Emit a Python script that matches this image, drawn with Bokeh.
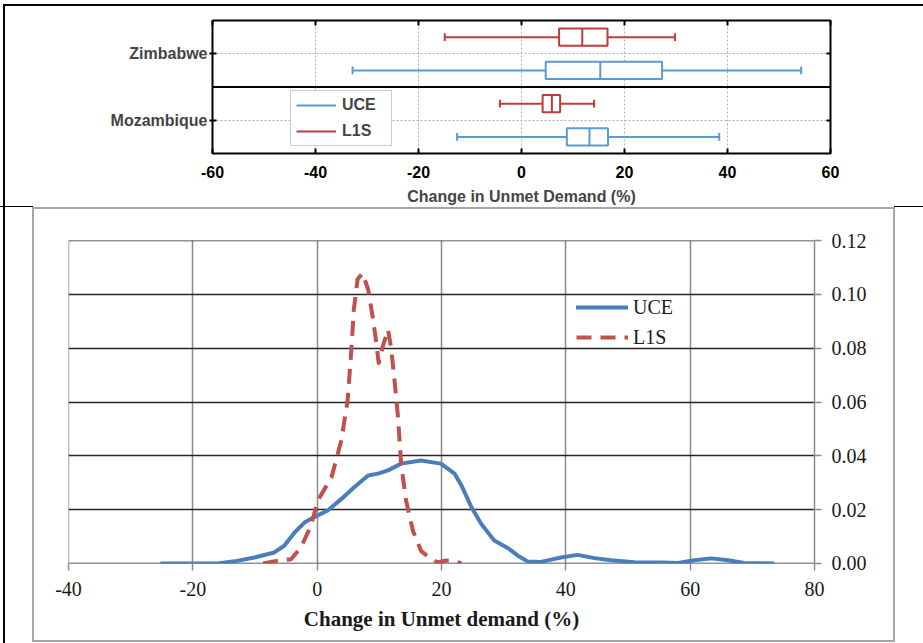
from bokeh.plotting import figure
from bokeh.models import (ColumnDataSource, FixedTicker, Span, Legend, LegendItem,
                          LinearAxis, NumeralTickFormatter, Range1d)
from bokeh.embed import file_html
from bokeh.resources import INLINE

# ---------------- data: box plots (top panel) ----------------
countries = ["Mozambique", "Zimbabwe"]
country_pos = [1, 2]
uce_low = [-12.5, -32.8]
uce_q1 = [8.8, 4.7]
uce_med = [13.2, 15.3]
uce_q3 = [16.8, 27.3]
uce_high = [38.4, 54.3]
l1s_low = [-4.2, -14.9]
l1s_q1 = [4.1, 7.3]
l1s_med = [5.9, 11.8]
l1s_q3 = [7.5, 16.7]
l1s_high = [14.1, 29.8]
top_xticks = [-60, -40, -20, 0, 20, 40, 60]
top_xlabels = ["-60", "-40", "-20", "0", "20", "40", "60"]

# ---------------- data: density curves (bottom panel) ----------------
uce_x = [-25, -16, -13.3, -10.1, -6.9, -5.3, -3.6, -2.0, 0, 1.7, 3.9, 6.0, 8.2, 9.8, 11.4,
         13.5, 16.7, 19.9, 22.1, 23.2, 24.8, 26.4, 28.5, 30.7, 32.3, 33.9, 36.0, 39.2, 41.9,
         44.6, 47.3, 51.0, 55.3, 58.0, 60.7, 63.4, 66.1, 68.7, 73.3]
uce_y = [0, 0, 0.0008, 0.0022, 0.0041, 0.0066, 0.0116, 0.0153, 0.0178, 0.0197, 0.024, 0.0284,
         0.0327, 0.0334, 0.0346, 0.0371, 0.0383, 0.0371, 0.0334, 0.029, 0.021, 0.0147, 0.0085,
         0.0057, 0.0029, 0.0007, 0.0006, 0.0022, 0.0032, 0.002, 0.0012, 0.0005, 0.0004, 0.0002,
         0.0012, 0.0019, 0.0012, 0.0002, 0.0]
l1s_x = [-8.7, -6.3, -4.2, -2.6, -1.0, 0.1, 2.3, 3.9, 4.9, 5.5, 5.9, 6.5, 7.3, 8.2, 9.0, 9.4,
         9.9, 10.6, 11.4, 11.9, 12.4, 13.0, 13.5, 14.3, 15.4, 16.7, 18.3, 19.4, 20.5, 21.5,
         22.5, 23.2]
l1s_y = [0, 0.001, 0.0016, 0.006, 0.014, 0.0234, 0.032, 0.0458, 0.0607, 0.0794, 0.0944, 0.1056,
         0.1078, 0.1018, 0.0906, 0.0840, 0.0745, 0.0810, 0.0869, 0.0800, 0.0690, 0.0545, 0.0371,
         0.0234, 0.0122, 0.0047, 0.0016, 0.0004, 0.0010, 0.0012, 0.0006, 0.0]
bot_xticks = [-40, -20, 0, 20, 40, 60, 80]
bot_xlabels = ["-40", "-20", "0", "20", "40", "60", "80"]
bot_yticks = [0.0, 0.02, 0.04, 0.06, 0.08, 0.10, 0.12]

SANS = "Liberation Sans"
SERIF = "Liberation Serif"
TOP_BLUE = "#5b9bd5"
TOP_RED = "#c23b3b"
BOT_BLUE = "#4a7ebb"
BOT_RED = "#c0504d"

# ================= TOP PANEL =================
top_bg = ", ".join([
    "linear-gradient(#000,#000) 3px 4px / 920px 2px no-repeat",
    "linear-gradient(#000,#000) 3px 4px / 2px 203px no-repeat",
    "linear-gradient(#000,#000) 0px 206px / 33px 1px no-repeat",
    "linear-gradient(#000,#000) 894px 206px / 29px 1px no-repeat",
    "#ffffff",
])
top = figure(width=923, height=207, x_range=Range1d(-60, 60), y_range=Range1d(0.5, 2.5),
             output_backend="svg", toolbar_location=None,
             min_border_left=212, min_border_right=93, min_border_top=20, min_border_bottom=54,
             border_fill_color=None, background_fill_color="white",
             outline_line_color="black", outline_line_width=2,
             styles={"background": top_bg})

xa = top.xaxis[0]
xa.ticker = FixedTicker(ticks=top_xticks)
xa.major_label_overrides = dict(zip(top_xticks, top_xlabels))
xa.axis_line_color = None
xa.major_tick_in = 5
xa.major_tick_out = 0
xa.major_tick_line_width = 2
xa.minor_tick_line_color = None
xa.major_label_text_font = SANS
xa.major_label_text_font_style = "bold"
xa.major_label_text_font_size = "16px"
xa.major_label_text_color = "black"
xa.major_label_standoff = 12
xa.axis_label = "Change in Unmet Demand (%)"
xa.axis_label_text_font = SANS
xa.axis_label_text_font_style = "bold"
xa.axis_label_text_font_size = "16px"
xa.axis_label_standoff = 7

ya = top.yaxis[0]
ya.ticker = FixedTicker(ticks=country_pos)
ya.major_label_overrides = {p: c for p, c in zip(country_pos, countries)}
ya.axis_line_color = None
ya.major_tick_in = 4
ya.major_tick_out = 3
ya.major_tick_line_width = 2
ya.minor_tick_line_color = None
ya.major_label_text_font = SANS
ya.major_label_text_font_style = "bold"
ya.major_label_text_font_size = "16px"
ya.major_label_standoff = 2

ax_top = LinearAxis(ticker=FixedTicker(ticks=top_xticks), axis_line_color=None,
                    major_tick_in=5, major_tick_out=0, major_tick_line_width=2,
                    minor_tick_line_color=None, major_label_text_color=None,
                    major_label_text_font_size="8px", major_label_standoff=0)
top.add_layout(ax_top, "above")
ax_right = LinearAxis(ticker=FixedTicker(ticks=country_pos), axis_line_color=None,
                      major_tick_in=4, major_tick_out=0, major_tick_line_width=2,
                      minor_tick_line_color=None, major_label_text_color=None,
                      major_label_text_font_size="8px", major_label_standoff=0)
top.add_layout(ax_right, "right")

top.xgrid.ticker = FixedTicker(ticks=top_xticks)
top.xgrid.grid_line_color = "#b0b0b0"
top.xgrid.grid_line_dash = "2 2"
top.ygrid.ticker = FixedTicker(ticks=country_pos)
top.ygrid.grid_line_color = "#b0b0b0"
top.ygrid.grid_line_dash = "2 2"

top.add_layout(Span(location=1.5, dimension="width", line_color="black", line_width=2))


def add_box_series(lows, q1s, meds, q3s, highs, offset, color):
    ys = [c + offset for c in country_pos]
    src = ColumnDataSource(dict(
        y=ys, low=lows, q1=q1s, med=meds, q3=q3s, high=highs,
        blo=[v - 0.13 for v in ys], bhi=[v + 0.13 for v in ys],
        clo=[v - 0.06 for v in ys], chi=[v + 0.06 for v in ys]))
    w = top.segment(x0="low", y0="y", x1="q1", y1="y", source=src, line_color=color, line_width=2)
    top.segment(x0="q3", y0="y", x1="high", y1="y", source=src, line_color=color, line_width=2)
    top.segment(x0="low", y0="clo", x1="low", y1="chi", source=src, line_color=color, line_width=2)
    top.segment(x0="high", y0="clo", x1="high", y1="chi", source=src, line_color=color, line_width=2)
    top.hbar(y="y", left="q1", right="q3", height=0.26, source=src,
             fill_color="white", line_color=color, line_width=2)
    top.segment(x0="med", y0="blo", x1="med", y1="bhi", source=src, line_color=color, line_width=2)
    return w


r_uce = add_box_series(uce_low, uce_q1, uce_med, uce_q3, uce_high, -0.25, TOP_BLUE)
r_l1s = add_box_series(l1s_low, l1s_q1, l1s_med, l1s_q3, l1s_high, 0.25, TOP_RED)

leg_top = Legend(items=[LegendItem(label="UCE", renderers=[r_uce]),
                        LegendItem(label="L1S", renderers=[r_l1s])],
                 location=(78, 7), margin=0, padding=5, spacing=8,
                 glyph_width=40, glyph_height=18, label_standoff=6, label_width=44,
                 label_height=18,
                 label_text_font=SANS, label_text_font_style="bold",
                 label_text_font_size="16px", border_line_color="#9a9a9a",
                 border_line_width=1, background_fill_color="white", background_fill_alpha=1)
top.add_layout(leg_top)

# ================= BOTTOM PANEL =================
bot_bg = ", ".join([
    "linear-gradient(#000,#000) 3px 0px / 2px 100% no-repeat",
    "linear-gradient(#a6a6a6,#a6a6a6) 32px 0px / 863px 2px no-repeat",
    "linear-gradient(#a6a6a6,#a6a6a6) 32px 433px / 863px 2px no-repeat",
    "linear-gradient(#a6a6a6,#a6a6a6) 32px 0px / 2px 435px no-repeat",
    "linear-gradient(#a6a6a6,#a6a6a6) 893px 0px / 2px 435px no-repeat",
    "#ffffff",
])
bot = figure(width=923, height=436, x_range=Range1d(-40.0001, 80),
             y_range=Range1d(-0.0000005, 0.1200005),
             y_axis_location="right", output_backend="svg", toolbar_location=None,
             min_border_left=68, min_border_right=109, min_border_top=33, min_border_bottom=80,
             border_fill_color=None, background_fill_color="white", outline_line_color=None,
             styles={"background": bot_bg})

bx = bot.xaxis[0]
bx.ticker = FixedTicker(ticks=bot_xticks)
bx.major_label_overrides = dict(zip(bot_xticks, bot_xlabels))
bx.axis_line_color = None
bx.major_tick_in = 0
bx.major_tick_out = 7
bx.major_tick_line_color = "#8a8a8a"
bx.major_tick_line_width = 1.5
bx.minor_tick_line_color = None
bx.major_label_text_font = SERIF
bx.major_label_text_font_size = "20px"
bx.major_label_text_color = "#1a1a1a"
bx.major_label_standoff = 11
bx.axis_label = "Change in Unmet demand (%)"
bx.axis_label_text_font = SERIF
bx.axis_label_text_font_style = "bold"
bx.axis_label_text_font_size = "21px"
bx.axis_label_text_color = "#1a1a1a"
bx.axis_label_standoff = 8

by = bot.yaxis[0]
by.ticker = FixedTicker(ticks=bot_yticks)
by.formatter = NumeralTickFormatter(format="0.00")
by.axis_line_color = "#8a8a8a"
by.axis_line_width = 1.5
by.major_tick_in = 0
by.major_tick_out = 7
by.major_tick_line_color = "#8a8a8a"
by.major_tick_line_width = 1.5
by.minor_tick_line_color = None
by.major_label_text_font = SERIF
by.major_label_text_font_size = "20px"
by.major_label_text_color = "#1a1a1a"
by.major_label_standoff = 10

bot.xgrid.ticker = FixedTicker(ticks=bot_xticks)
bot.xgrid.grid_line_color = "#8a8a8a"
bot.xgrid.grid_line_width = 1.5
bot.ygrid.ticker = FixedTicker(ticks=bot_yticks)
bot.ygrid.grid_line_color = "#262626"
bot.ygrid.grid_line_width = 1.5

src_uce = ColumnDataSource(dict(x=uce_x, y=uce_y))
src_l1s = ColumnDataSource(dict(x=l1s_x, y=l1s_y))
l_uce = bot.line("x", "y", source=src_uce, line_color=BOT_BLUE, line_width=4,
                 line_join="round", line_cap="round")
l_l1s = bot.line("x", "y", source=src_l1s, line_color=BOT_RED, line_width=4,
                 line_dash="15 9", line_join="round")

leg_bot = Legend(items=[LegendItem(label="UCE", renderers=[l_uce]),
                        LegendItem(label="L1S", renderers=[l_l1s])],
                 location=(508, 214), margin=0, padding=0, spacing=6,
                 glyph_width=52, glyph_height=24, label_standoff=5,
                 label_text_font=SERIF, label_text_font_size="20px",
                 label_text_color="#1a1a1a", border_line_color=None,
                 background_fill_alpha=0)
bot.add_layout(leg_bot)

open("out.html", "w").write(file_html([top, bot], INLINE))
